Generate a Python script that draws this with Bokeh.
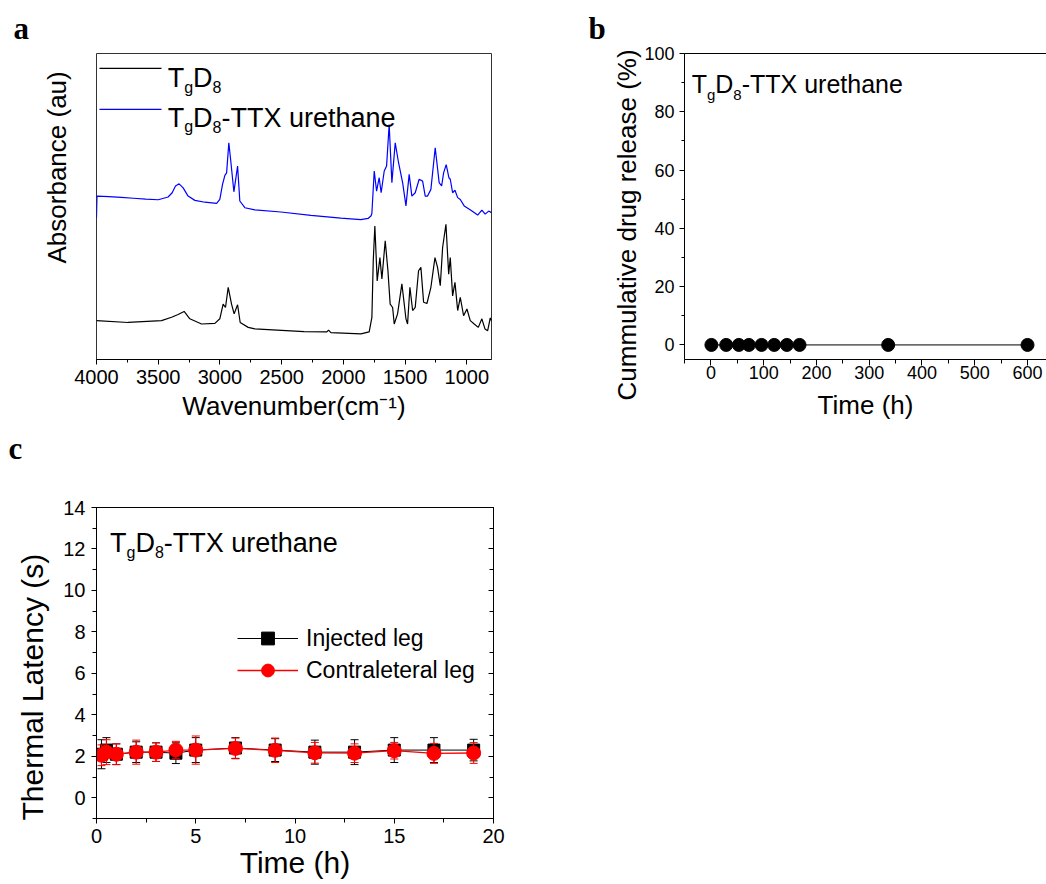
from bokeh.embed import file_html
from bokeh.layouts import column, row
from bokeh.models import (FixedTicker, Label, Legend, LegendItem, LinearAxis,
                          Range1d, SingleIntervalTicker, Title)
from bokeh.plotting import figure
from bokeh.resources import INLINE

SANS = "Liberation Sans"
SERIF = "Liberation Serif"

# ---------------- data: panel a (FTIR spectra) ----------------
tgd8_wavenumber = [4000, 3744, 3473, 3392, 3339, 3290, 3244, 3149, 3041, 3001,
                   2974, 2955, 2933, 2906, 2885, 2857, 2836, 2771, 2717, 2318,
                   2134, 2120, 2101, 1858, 1791, 1769, 1758, 1745, 1726, 1704,
                   1688, 1661, 1639, 1621, 1601, 1588, 1561, 1526, 1493, 1480,
                   1461, 1439, 1418, 1391, 1372, 1350, 1323, 1291, 1258, 1237,
                   1215, 1196, 1169, 1147, 1134, 1115, 1096, 1074, 1053, 1026,
                   999, 972, 940, 907, 878, 853, 831, 810, 800]
tgd8_absorbance = [0.127, 0.121, 0.127, 0.138, 0.147, 0.157, 0.133, 0.116, 0.118, 0.133,
                   0.181, 0.170, 0.236, 0.181, 0.149, 0.179, 0.121, 0.105, 0.100, 0.091,
                   0.090, 0.096, 0.088, 0.084, 0.090, 0.138, 0.322, 0.436, 0.257, 0.333,
                   0.263, 0.388, 0.290, 0.181, 0.170, 0.116, 0.149, 0.247, 0.133, 0.116,
                   0.236, 0.160, 0.170, 0.290, 0.301, 0.187, 0.183, 0.236, 0.333, 0.301,
                   0.241, 0.366, 0.442, 0.279, 0.333, 0.208, 0.252, 0.160, 0.203, 0.143,
                   0.165, 0.127, 0.116, 0.105, 0.133, 0.100, 0.094, 0.136, 0.127]
ttx_wavenumber = [4000, 3996, 3900, 3800, 3700, 3600, 3500, 3420, 3387, 3360,
                  3331, 3298, 3258, 3203, 3122, 3027, 3001, 2979, 2960, 2946,
                  2928, 2912, 2887, 2857, 2839, 2798, 2717, 2506, 2263, 2020,
                  1858, 1800, 1775, 1769, 1750, 1731, 1710, 1694, 1669, 1650,
                  1629, 1607, 1580, 1553, 1520, 1493, 1467, 1445, 1418, 1386,
                  1358, 1337, 1318, 1291, 1256, 1224, 1204, 1188, 1167, 1145,
                  1134, 1115, 1096, 1074, 1053, 1021, 967, 912, 878, 851,
                  823, 800]
ttx_absorbance = [0.463, 0.534, 0.532, 0.530, 0.527, 0.524, 0.522, 0.531, 0.545, 0.567,
                  0.574, 0.561, 0.534, 0.520, 0.514, 0.510, 0.523, 0.572, 0.602, 0.610,
                  0.708, 0.648, 0.548, 0.632, 0.518, 0.496, 0.489, 0.482, 0.471, 0.462,
                  0.457, 0.461, 0.470, 0.478, 0.616, 0.550, 0.594, 0.545, 0.616, 0.632,
                  0.768, 0.578, 0.708, 0.643, 0.578, 0.502, 0.605, 0.534, 0.545, 0.589,
                  0.583, 0.534, 0.534, 0.556, 0.692, 0.578, 0.567, 0.610, 0.637, 0.594,
                  0.589, 0.545, 0.553, 0.529, 0.523, 0.502, 0.488, 0.472, 0.488, 0.475,
                  0.485, 0.480]

# ---------------- data: panel b (release) ----------------
release_time_h = [1, 29, 53, 72, 96, 120, 144, 168, 336, 600]
release_percent = [0, 0, 0, 0, 0, 0, 0, 0, 0, 0]

# ---------------- data: panel c (thermal latency) ----------------
latency_time_h = [0.25, 0.5, 1, 2, 3, 4, 5, 7, 9, 11, 13, 15, 17, 19]
injected_mean = [2.1, 2.3, 2.1, 2.2, 2.2, 2.15, 2.3, 2.4, 2.3, 2.2, 2.2, 2.3, 2.3, 2.3]
injected_sd = [0.7, 0.6, 0.5, 0.5, 0.45, 0.5, 0.6, 0.5, 0.55, 0.58, 0.6, 0.6, 0.6, 0.52]
contra_mean = [2.05, 2.2, 2.1, 2.2, 2.2, 2.3, 2.3, 2.38, 2.29, 2.17, 2.15, 2.27, 2.14, 2.16]
contra_sd = [0.5, 0.6, 0.5, 0.58, 0.45, 0.42, 0.68, 0.5, 0.59, 0.5, 0.45, 0.4, 0.48, 0.5]

NAME_PARTS = [("T", False), ("g", True), ("D", False), ("8", True)]
ADV = {"T": 0.611, "g": 0.556, "D": 0.722, "8": 0.556}


def make_fig(origin, size, frame, x_range, y_range, **kw):
    ox, oy = origin
    fw, fh = size
    left, top, w, h = frame
    p = figure(width=fw, height=fh, x_range=Range1d(*x_range), y_range=Range1d(*y_range),
               output_backend="svg", toolbar_location=None, tools="",
               min_border_left=left - ox, min_border_top=top - oy,
               min_border_right=ox + fw - (left + w), min_border_bottom=oy + fh - (top + h), **kw)
    p.xgrid.visible = False
    p.ygrid.visible = False
    p.background_fill_color = "white"
    p.border_fill_color = "white"
    return p, (frame, x_range, y_range)


def to_data(geo, px, py):
    (left, top, w, h), (x0, x1), (y0, y1) = geo
    return x0 + (px - left) / w * (x1 - x0), y1 - (py - top) / h * (y1 - y0)


def add_text(p, geo, px, py, text, size):
    x, y = to_data(geo, px, py)
    p.add_layout(Label(x=x, y=y, text=text, text_font=SANS, text_font_size=f"{size}px",
                       text_color="black", text_align="left", text_baseline="alphabetic"))


def add_name(p, geo, px, py, size, sub_size, drop, suffix):
    x = px
    for ch, sub in NAME_PARTS:
        s = sub_size if sub else size
        add_text(p, geo, x, py + (drop if sub else 0), ch, s)
        x += ADV[ch] * s
    if suffix:
        add_text(p, geo, x, py, suffix, size)


def add_title(p, side, text, size, offset, standoff, font=SANS, style="normal",
              valign="bottom"):
    p.add_layout(Title(text=text, align="left", vertical_align=valign, offset=offset,
                       standoff=standoff, text_font=font, text_font_size=f"{size}px",
                       text_font_style=style, text_color="black"), side)


def style_axis(ax, size, standoff, tick_out=5, minor_out=3):
    ax.axis_line_color = "black"
    ax.axis_line_width = 1
    ax.major_tick_line_color = "black"
    ax.minor_tick_line_color = "black"
    ax.major_tick_in = 0
    ax.major_tick_out = tick_out
    ax.minor_tick_in = 0
    ax.minor_tick_out = minor_out
    ax.major_label_text_font = SANS
    ax.major_label_text_font_size = f"{size}px"
    ax.major_label_text_color = "black"
    ax.major_label_standoff = standoff
    ax.axis_label_text_font = SANS
    ax.axis_label_text_font_style = "normal"
    ax.axis_label_text_color = "black"


ROW1_H = 478

# ---------------- panel a ----------------
pa, ga = make_fig((0, 0), (580, ROW1_H), (96, 52, 395, 307), (4000, 800), (0, 1),
                  y_axis_location=None)
pa.outline_line_color = "#333333"
pa.outline_line_width = 1
xa = pa.below[0]
xa.ticker = SingleIntervalTicker(interval=500, num_minor_ticks=2)
style_axis(xa, 20, 5, 5, 3)
xa.axis_label = "Wavenumber(cm\u207b\u00b9)"
xa.axis_label_text_font_size = "26px"
xa.axis_label_standoff = 4

pa.line(tgd8_wavenumber, tgd8_absorbance, line_color="black", line_width=1.2)
pa.line(ttx_wavenumber, ttx_absorbance, line_color="#0000ff", line_width=1.2)

for py, col in ((67, "black"), (108, "#0000ff")):
    x0, y0 = to_data(ga, 99, py)
    x1, _ = to_data(ga, 161, py)
    pa.segment(x0=[x0], y0=[y0], x1=[x1], y1=[y0], line_color=col, line_width=1.2)
add_name(pa, ga, 167.2, 76.7, 27, 16, 9, "")
add_name(pa, ga, 167.2, 116.7, 27, 16, 9, "-TTX urethane")
add_title(pa, "left", "Absorbance (au)", 26, 96, 49)
add_title(pa, "above", "a", 31, -83, 16, font=SERIF, style="bold")
add_title(pa, "below", "c", 31, -88, 15, font=SERIF, style="bold", valign="top")

# ---------------- panel b ----------------
pb, gb = make_fig((580, 0), (466, ROW1_H), (684, 53, 362, 306), (-50, 636), (-5, 100))
pb.outline_line_color = None
pb.add_layout(LinearAxis(ticker=FixedTicker(ticks=[], minor_ticks=[]),
                         axis_line_color="black", major_label_text_font_size="0px"), "above")
yb = pb.left[0]
yb.ticker = SingleIntervalTicker(interval=20, num_minor_ticks=2)
style_axis(yb, 18, 5, 5, 3)
xb = pb.below[0]
xb.ticker = SingleIntervalTicker(interval=100, num_minor_ticks=2)
style_axis(xb, 18, 0, 6, 4)
xb.axis_label = "Time (h)"
xb.axis_label_text_font_size = "26px"
xb.axis_label_standoff = 8

pb.line(release_time_h, release_percent, line_color="black", line_width=1)
pb.scatter(release_time_h, release_percent, marker="circle", size=13,
           fill_color="black", line_color="black")
add_name(pb, gb, 691.2, 83.3, 25, 15, 11, "-TTX urethane")
add_title(pb, "left", "Cummulative drug release (%)", 26, -41, 0)
add_title(pb, "above", "b", 31, -96, 16, font=SERIF, style="bold")

# ---------------- panel c ----------------
pc, gc = make_fig((0, ROW1_H), (580, 884 - ROW1_H), (96, 507, 397, 311), (0, 20), (-1, 14))
pc.outline_line_color = "black"
pc.outline_line_width = 1
yc = pc.left[0]
yc.ticker = SingleIntervalTicker(interval=2, num_minor_ticks=2)
style_axis(yc, 20, 6, 5, 4)
xc = pc.below[0]
xc.ticker = SingleIntervalTicker(interval=5, num_minor_ticks=2)
style_axis(xc, 20, 5, 5, 4)
xc.axis_label = "Time (h)"
xc.axis_label_text_font_size = "30px"
xc.axis_label_standoff = 0
rc = LinearAxis(ticker=SingleIntervalTicker(interval=2, num_minor_ticks=2))
style_axis(rc, 20, 0, 0, 0)
rc.major_tick_in = 5
rc.minor_tick_in = 4
rc.major_label_text_color = None
pc.add_layout(rc, "right")


def error_bars(p, x, mean, sd, color):
    lo = [m - s for m, s in zip(mean, sd)]
    hi = [m + s for m, s in zip(mean, sd)]
    p.segment(x0=x, y0=lo, x1=x, y1=hi, line_color=color, line_width=1)
    p.scatter(list(x) + list(x), lo + hi, marker="dash", size=8, line_color=color, line_width=1)


error_bars(pc, latency_time_h, injected_mean, injected_sd, "black")
l_inj = pc.line(latency_time_h, injected_mean, line_color="black", line_width=1)
s_inj = pc.scatter(latency_time_h, injected_mean, marker="square", size=12,
                   fill_color="black", line_color="black")
error_bars(pc, latency_time_h, contra_mean, contra_sd, "#ff0000")
l_con = pc.line(latency_time_h, contra_mean, line_color="#ff0000", line_width=1.3)
s_con = pc.scatter(latency_time_h, contra_mean, marker="circle", size=14,
                   fill_color="#ff0000", line_color="#ff0000")

legend = Legend(items=[LegendItem(label="Injected leg", renderers=[l_inj, s_inj]),
                       LegendItem(label="Contraleteral leg", renderers=[l_con, s_con])],
                location=(141, 132), orientation="vertical", padding=0, margin=0, spacing=0,
                glyph_width=61, glyph_height=32, label_height=32, label_standoff=8,
                label_text_font=SANS, label_text_font_size="23px", label_text_color="black",
                background_fill_alpha=0, border_line_color=None)
pc.add_layout(legend)

add_name(pc, gc, 109.5, 542.7, 27, 16, 9, "-TTX urethane")
add_title(pc, "left", "Thermal Latency (s)", 30, -2, 23)

root = column(row(pa, pb), pc)
open("out.html", "w").write(file_html(root, INLINE, title="TgD8-TTX urethane"))
